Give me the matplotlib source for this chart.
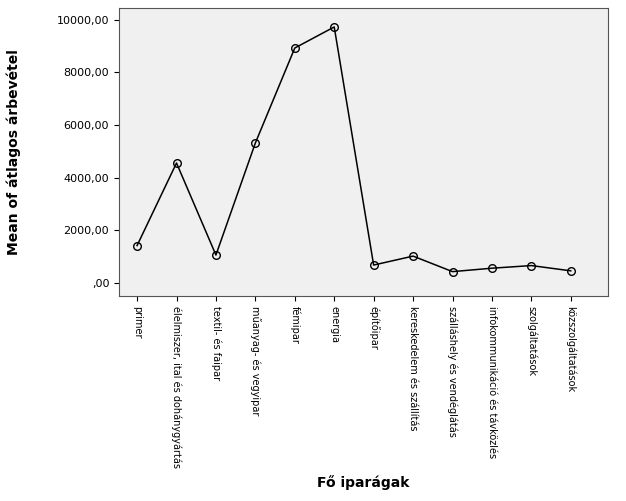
import matplotlib
matplotlib.use("Agg")
import matplotlib.pyplot as plt
from matplotlib.ticker import FuncFormatter

categories = ["primer", "élelmiszer, ital és dohánygyártás", "textil- és faipar",
              "műanyag- és vegyipar", "fémipar", "energia", "építőipar",
              "kereskedelem és szállítás", "szálláshely és vendéglátás",
              "infokommunikáció és távközlés", "szolgáltatások", "közszolgáltatások"]
values = [1420, 4560, 1060, 5320, 8930, 9730, 680, 1020, 430, 560, 660, 460]
yticks = [0, 2000, 4000, 6000, 8000, 10000]

fig = plt.figure(figsize=(6.26, 5.01), dpi=100)
ax = fig.add_axes([0.19, 0.409, 0.781, 0.575])
ax.set_facecolor("#F0F0F0")
x = list(range(len(categories)))
ax.plot(x, values, color="black", lw=1.1, marker="o", markersize=5.5,
        markerfacecolor="none", markeredgecolor="black", markeredgewidth=1)
ax.set_xlim(-0.46, 11.94)
ax.set_ylim(-500, 10450)
ax.set_yticks(yticks)
def fmt(v, p):
    return ",00" if v == 0 else f"{int(v)},00"
ax.yaxis.set_major_formatter(FuncFormatter(fmt))
ax.set_xticks(x)
ax.set_xticklabels(categories, rotation=270, fontsize=7, va="top", ha="center")
ax.tick_params(axis="y", labelsize=8)
for s in ax.spines.values():
    s.set_color("#555555")
ax.set_ylabel("Mean of átlagos árbevétel", fontsize=10, fontweight="bold")
ax.yaxis.set_label_coords(-0.2, 0.5)
ax.set_xlabel("Fő iparágak", fontsize=10, fontweight="bold")
ax.xaxis.set_label_coords(0.5, -0.62)
fig.savefig("out.png", dpi=100)
